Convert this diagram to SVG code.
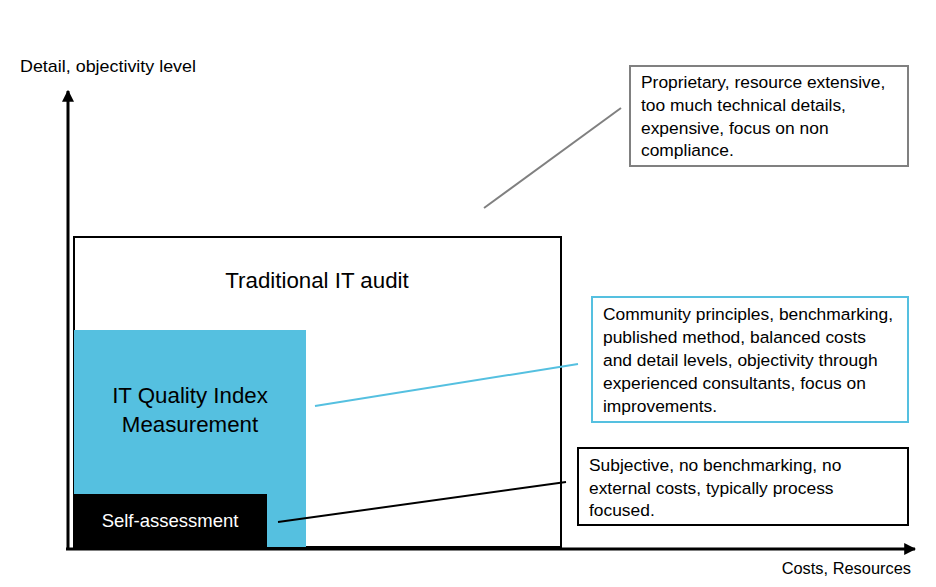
<svg xmlns="http://www.w3.org/2000/svg" width="936" height="587" viewBox="0 0 936 587">
<defs>
<marker id="arr" viewBox="0 0 10 10" refX="9" refY="5" markerWidth="4" markerHeight="4" orient="auto" markerUnits="strokeWidth">
<path d="M0,0 L10,5 L0,10 z" fill="#000"/>
</marker>
</defs>
<style>
text{font-family:"Liberation Sans",Arial,sans-serif;fill:#000}
.lbl{font-size:17px}
.big{font-size:22.3px;text-anchor:middle}
.note{font-size:17.4px}
</style>
<rect width="936" height="587" fill="#fff"/>
<g id="axes">
<line x1="68" y1="550" x2="68" y2="91" stroke="#000" stroke-width="3" marker-end="url(#arr)"/>
<line x1="66" y1="549" x2="915" y2="549" stroke="#000" stroke-width="3" marker-end="url(#arr)"/>
<text class="lbl" x="20" y="72" textLength="176" lengthAdjust="spacingAndGlyphs">Detail, objectivity level</text>
<text class="lbl" x="911" y="574" text-anchor="end" style="font-size:16.4px">Costs, Resources</text>
</g>
<g id="traditional">
<rect x="74" y="237" width="487" height="310" fill="#fff" stroke="#000" stroke-width="2"/>
<text class="big" x="317" y="288">Traditional IT audit</text>
</g>
<g id="itqi">
<rect x="74" y="330" width="232" height="217" fill="#55C0E0"/>
<text class="big" x="190" y="403">IT Quality Index</text>
<text class="big" x="190" y="432">Measurement</text>
</g>
<g id="self">
<rect x="74" y="494" width="193" height="53" fill="#000"/>
<text x="170" y="527" text-anchor="middle" style="font-size:18.5px;fill:#fff">Self-assessment</text>
</g>
<g id="connectors">
<line x1="484" y1="208" x2="621" y2="108" stroke="#808080" stroke-width="2"/>
<line x1="315" y1="406" x2="578" y2="364" stroke="#55C0E0" stroke-width="2"/>
<line x1="278" y1="522" x2="566" y2="482" stroke="#000" stroke-width="2"/>
</g>
<g id="note-traditional">
<rect x="630" y="66" width="278" height="100" fill="#fff" stroke="#808080" stroke-width="2"/>
<text class="note" x="641" y="88">Proprietary, resource extensive,</text>
<text class="note" x="641" y="111">too much technical details,</text>
<text class="note" x="641" y="134">expensive, focus on non</text>
<text class="note" x="641" y="156">compliance.</text>
</g>
<g id="note-itqi">
<rect x="592" y="297" width="316" height="125" fill="#fff" stroke="#55C0E0" stroke-width="2"/>
<text class="note" x="603" y="320">Community principles, benchmarking,</text>
<text class="note" x="603" y="343">published method, balanced costs</text>
<text class="note" x="603" y="366">and detail levels, objectivity through</text>
<text class="note" x="603" y="389">experienced consultants, focus on</text>
<text class="note" x="603" y="412">improvements.</text>
</g>
<g id="note-self">
<rect x="578" y="448" width="330" height="77" fill="#fff" stroke="#000" stroke-width="2"/>
<text class="note" x="589" y="471">Subjective, no benchmarking, no</text>
<text class="note" x="589" y="494">external costs, typically process</text>
<text class="note" x="589" y="516">focused.</text>
</g>
</svg>
